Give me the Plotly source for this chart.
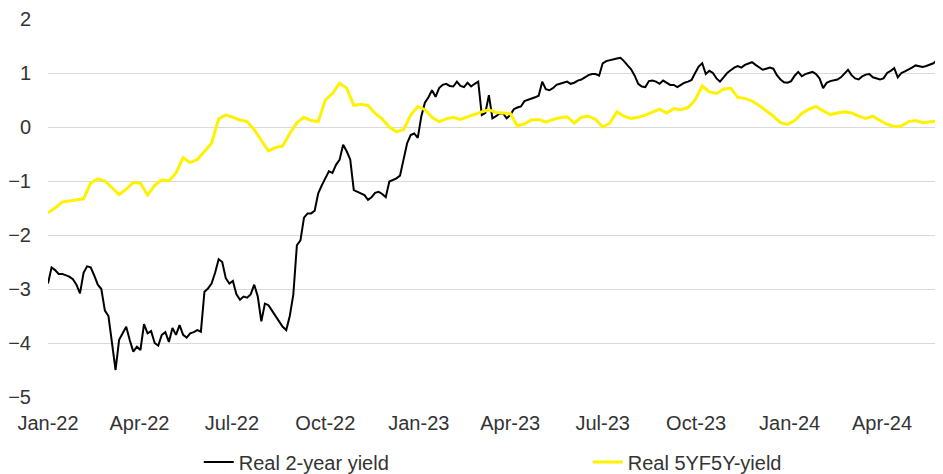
import pandas as pd
import plotly.graph_objects as go

# Observations starting 2022-01-01: 2-year series twice weekly, 5Y5Y weekly
start_date = "2022-01-01"

real_2y = [
    -2.90, -2.60, -2.65, -2.72, -2.72, -2.74, -2.77, -2.82, -2.92, -3.08,
    -2.70, -2.58, -2.60, -2.75, -2.92, -3.00, -3.40, -3.50, -4.00, -4.50,
    -3.94, -3.82, -3.70, -3.95, -4.16, -4.07, -4.13, -3.65, -3.82, -3.78,
    -4.00, -4.05, -3.85, -3.80, -3.98, -3.72, -3.85, -3.67, -3.85, -3.90,
    -3.82, -3.80, -3.76, -3.79, -3.05, -2.99, -2.90, -2.70, -2.45, -2.50,
    -2.80, -2.90, -2.85, -3.10, -3.20, -3.14, -3.16, -3.10, -2.92, -3.14,
    -3.60, -3.27, -3.30, -3.40, -3.50, -3.60, -3.70, -3.76, -3.50, -3.10,
    -2.19, -2.10, -1.68, -1.60, -1.60, -1.55, -1.23, -1.08, -0.95, -0.82,
    -0.85, -0.70, -0.61, -0.33, -0.45, -0.60, -1.17, -1.20, -1.22, -1.26,
    -1.35, -1.30, -1.22, -1.20, -1.24, -1.30, -1.01, -0.98, -0.95, -0.90,
    -0.60, -0.30, -0.15, -0.12, -0.20, 0.20, 0.45, 0.55, 0.68, 0.56,
    0.72, 0.78, 0.80, 0.76, 0.75, 0.84, 0.76, 0.74, 0.82, 0.75,
    0.80, 0.84, 0.22, 0.26, 0.59, 0.16, 0.20, 0.25, 0.25, 0.16,
    0.22, 0.33, 0.36, 0.38, 0.48, 0.50, 0.53, 0.55, 0.58, 0.84,
    0.70, 0.68, 0.72, 0.78, 0.80, 0.82, 0.84, 0.80, 0.82, 0.86,
    0.88, 0.92, 0.96, 0.98, 0.98, 0.95, 1.18, 1.22, 1.24, 1.25,
    1.27, 1.28, 1.22, 1.14, 1.07, 0.95, 0.80, 0.75, 0.74, 0.85,
    0.86, 0.84, 0.80, 0.86, 0.82, 0.78, 0.78, 0.74, 0.78, 0.82,
    0.84, 0.87, 1.00, 1.12, 1.18, 0.98, 1.04, 1.00, 0.90, 0.84,
    0.92, 1.00, 1.05, 1.10, 1.13, 1.10, 1.15, 1.17, 1.20, 1.15,
    1.10, 1.06, 1.08, 1.10, 1.08, 0.96, 0.88, 0.83, 0.82, 0.85,
    0.95, 1.02, 0.94, 0.98, 1.00, 1.02, 0.98, 0.90, 0.72, 0.82,
    0.85, 0.86, 0.88, 0.92, 1.00, 1.06, 0.96, 0.90, 0.88, 0.94,
    0.97, 0.98, 0.92, 0.90, 0.88, 0.90, 1.00, 1.04, 1.09, 0.92,
    1.00, 1.03, 1.06, 1.10, 1.14, 1.13, 1.11, 1.13, 1.15, 1.18,
    1.24, 1.18,
]

real_5y5y = [
    -1.59, -1.50, -1.39, -1.37, -1.35, -1.33, -1.04, -0.96, -1.00, -1.12,
    -1.25, -1.15, -1.03, -1.04, -1.26, -1.08, -0.98, -1.00, -0.85, -0.57,
    -0.66, -0.60, -0.44, -0.30, 0.15, 0.22, 0.18, 0.13, 0.10, -0.05,
    -0.25, -0.44, -0.38, -0.35, -0.12, 0.08, 0.18, 0.12, 0.10, 0.50,
    0.62, 0.81, 0.72, 0.40, 0.42, 0.40, 0.25, 0.15, 0.00, -0.09,
    -0.05, 0.22, 0.38, 0.32, 0.18, 0.10, 0.15, 0.18, 0.14, 0.19,
    0.23, 0.28, 0.32, 0.27, 0.26, 0.25, 0.02, 0.06, 0.13, 0.14,
    0.09, 0.14, 0.17, 0.19, 0.07, 0.18, 0.20, 0.14, 0.00, 0.07,
    0.28, 0.20, 0.16, 0.18, 0.22, 0.27, 0.33, 0.26, 0.34, 0.32,
    0.36, 0.50, 0.76, 0.65, 0.62, 0.70, 0.72, 0.55, 0.53, 0.48,
    0.40, 0.30, 0.20, 0.08, 0.05, 0.12, 0.25, 0.33, 0.38, 0.30,
    0.23, 0.26, 0.28, 0.26, 0.20, 0.16, 0.20, 0.12, 0.05, 0.01,
    0.02, 0.10, 0.12, 0.08, 0.09, 0.11, 0.14,
]

dates_2y = pd.date_range(start_date, periods=len(real_2y), freq="84h")
dates_5y5y = pd.date_range(start_date, periods=len(real_5y5y), freq="7D")

tick_dates = pd.date_range("2022-01-01", "2024-04-01", freq="QS")
tick_labels = [d.strftime("%b-%y") for d in tick_dates]

font_family = "Liberation Sans, Arial, sans-serif"
text_color = "#333333"

fig = go.Figure()
fig.add_trace(go.Scatter(
    x=dates_2y, y=real_2y, mode="lines", name="Real 2-year yield",
    line=dict(color="#000000", width=2), legend="legend",
))
fig.add_trace(go.Scatter(
    x=dates_5y5y, y=real_5y5y, mode="lines", name="Real 5YF5Y-yield",
    line=dict(color="#FFF200", width=3), legend="legend2",
))

legend_common = dict(
    orientation="h", yref="container", y=0.026, yanchor="middle",
    xref="container", xanchor="left",
    font=dict(size=20, color=text_color),
    bgcolor="rgba(0,0,0,0)", borderwidth=0,
)

# The page body adds an 8px margin, so the figure is 8px smaller on each axis
fig.update_layout(
    width=935, height=466,
    margin=dict(l=40, r=0, t=11, b=77, autoexpand=False),
    paper_bgcolor="white", plot_bgcolor="white",
    font=dict(family=font_family, size=20, color=text_color),
    showlegend=True,
    legend=dict(x=0.204, **legend_common),
    legend2=dict(x=0.620, **legend_common),
    xaxis=dict(
        range=["2022-01-01", "2024-05-31"],
        tickmode="array", tickvals=tick_dates, ticktext=tick_labels,
        showgrid=False, zeroline=False, showline=False, automargin=False,
        ticks="outside", ticklen=8, tickcolor="rgba(0,0,0,0)",
        tickfont=dict(size=20, color=text_color),
    ),
    yaxis=dict(
        range=[-5, 2], dtick=1, tick0=0,
        showgrid=True, gridcolor="#D9D9D9", gridwidth=1,
        zeroline=False, showline=False, automargin=False,
        ticks="outside", ticklen=12, tickcolor="rgba(0,0,0,0)",
        tickfont=dict(size=20, color=text_color),
    ),
)

fig.write_html("out.html")
